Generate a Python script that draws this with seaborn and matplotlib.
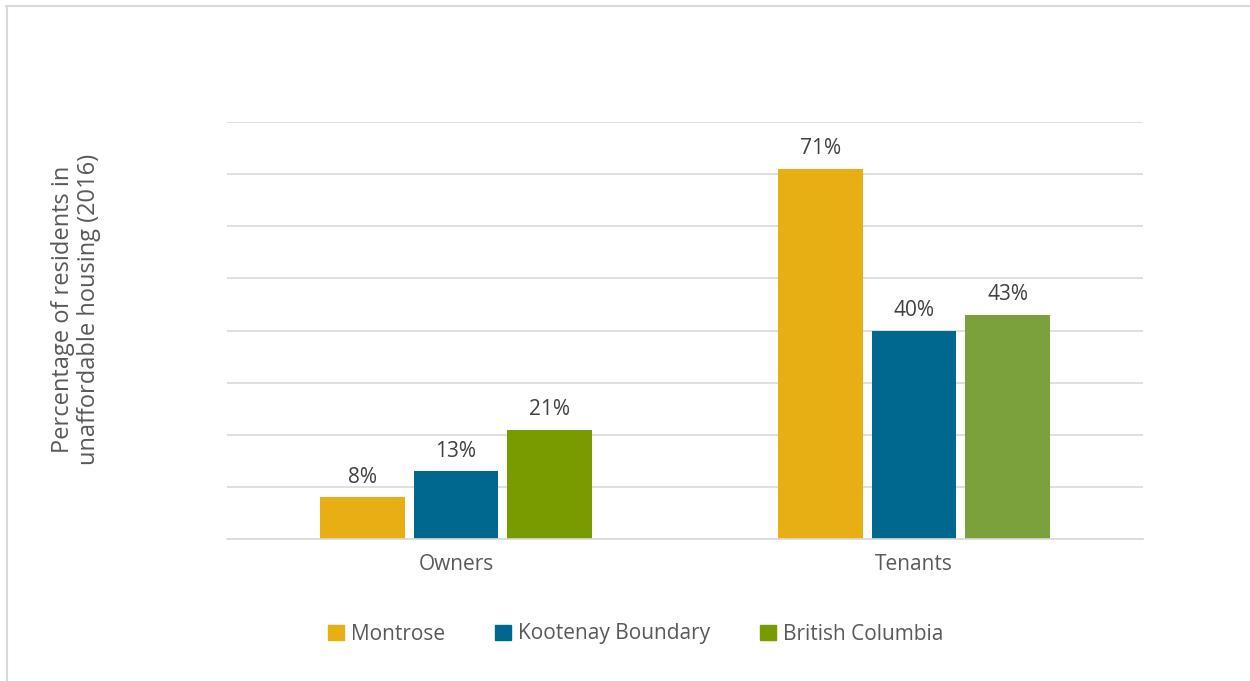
import pandas as pd
import seaborn as sns
import matplotlib.pyplot as plt
from matplotlib.patches import Rectangle

tenure = ['Owners', 'Tenants']
regions = ['Montrose', 'Kootenay Boundary', 'British Columbia']
montrose = [8, 71]
kootenay = [13, 40]
british_columbia = [21, 43]

region_colors = {'Montrose': '#E8AF14', 'Kootenay Boundary': '#00688E', 'British Columbia': '#789B00'}
bc_tenant_color = '#7AA13C'

df = pd.DataFrame({
    'tenure': tenure * 3,
    'region': [r for r in regions for _ in tenure],
    'pct': montrose + kootenay + british_columbia,
})

sns.set_style('white')
plt.rcParams['font.family'] = ['Open Sans', 'DejaVu Sans']

fig = plt.figure(figsize=(12.5, 6.81), dpi=100)
ax = fig.add_axes([227 / 1250, 1 - 539 / 681, (1143 - 227) / 1250, (539 - 122) / 681])

sns.barplot(data=df, x='tenure', y='pct', hue='region', hue_order=regions,
            palette=region_colors, saturation=1, width=0.613, gap=0.096,
            ax=ax, legend=False, edgecolor='none')

# the BC tenants bar is a slightly lighter green in the original
for bar in ax.patches:
    if abs(bar.get_height() - british_columbia[1]) < 1e-6 and bar.get_x() > 0.5:
        bar.set_facecolor(bc_tenant_color)

for cont in ax.containers:
    ax.bar_label(cont, labels=[f'{v:.0f}%' for v in cont.datavalues],
                 padding=7, fontsize=15, color='#404040')

ax.set_ylim(0, 80)
ax.set_xlim(-0.5, 1.5)
ax.set_yticks(range(0, 81, 10))
ax.set_yticklabels([])
ax.tick_params(axis='y', length=0)
ax.tick_params(axis='x', length=0, pad=11, labelsize=15, labelcolor='#595959')
ax.yaxis.grid(True, color='#D9D9D9', linewidth=1.2)
ax.set_axisbelow(True)
for side in ['top', 'right', 'left']:
    ax.spines[side].set_visible(False)
ax.spines['bottom'].set_color('#D9D9D9')
ax.spines['bottom'].set_linewidth(1.2)
ax.set_xlabel('')
ax.set_ylabel('Percentage of residents in\nunaffordable housing (2016)',
              fontsize=17, color='#595959', linespacing=1.1)
ax.yaxis.set_label_coords(-0.138, 0.55)

handles = [Rectangle((0, 0), 1, 1, color=region_colors[r]) for r in regions]
fig.legend(handles, regions, loc='center', bbox_to_anchor=(636 / 1250, 1 - 634 / 681),
           ncol=3, frameon=False, fontsize=15, labelcolor='#595959',
           handlelength=0.75, handleheight=0.75, handletextpad=0.35, columnspacing=2.4)

# thin frame lines at top and left, as in the cropped original
fig.add_artist(plt.Line2D([6 / 1250, 1], [1 - 6 / 681] * 2, color='#D9D9D9', lw=1.5))
fig.add_artist(plt.Line2D([7 / 1250] * 2, [0, 1 - 6 / 681], color='#D9D9D9', lw=1.5))

fig.savefig('out.png', dpi=100)
